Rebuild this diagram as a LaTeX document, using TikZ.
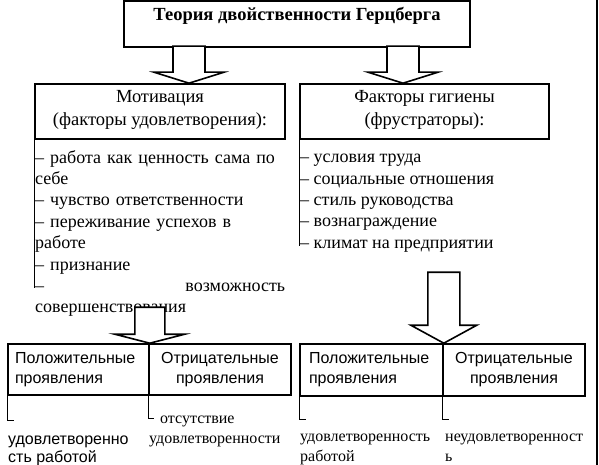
\documentclass[tikz,border=0pt]{standalone}
\usepackage{fontspec}
\setmainfont{Liberation Serif}
\setsansfont{Liberation Sans}
\begin{document}
\begin{tikzpicture}[x=1pt,y=-1pt]
    \tikzset{every node/.style={inner sep=0pt}}
    \tikzset{box/.style={draw=black,line width=1.6pt}}
    \tikzset{barrow/.style={draw=black,fill=white,line width=1.6pt,line join=miter}}
    \tikzset{bracket/.style={draw=black,line width=1.3pt}}
    \tikzset{serif/.style={font=\fontsize{18}{21.4}\selectfont}}
    \tikzset{head serif/.style={font=\fontsize{18.5}{23.5}\selectfont}}
    \tikzset{small serif/.style={font=\fontsize{16}{20}\selectfont}}
    \tikzset{sans/.style={font=\sffamily\fontsize{16}{20}\selectfont}}
    \useasboundingbox (0,0) rectangle (599,465);
    % frame line on the right
    \draw [line width=1.3pt] (597,0) -- (597,465);
    % title
    \node [box, minimum width=346pt, minimum height=46pt] (title) at (297,24) {};
    \node [font=\bfseries\fontsize{18.5}{20}\selectfont] (titletext) at (297,15.5) {Теория двойственности Герцберга};
    % upper boxes
    \node [box, head serif, align=center, minimum width=250pt, minimum height=55pt, text depth=7pt] (motiv) at (160,111.5) {Мотивация\\(факторы удовлетворения):};
    \node [box, head serif, align=center, minimum width=249pt, minimum height=55pt, text depth=7pt] (hyg) at (424.5,111.5) {Факторы гигиены\\(фрустраторы):};
    % lists
    \draw [bracket] (motiv.south west) -- ++(0,148);
    \draw [bracket] (hyg.south west) -- ++(0,106);
    \node [serif, align=left, text width=250pt, anchor=north west] (motlist) at (35,150) {%
        – работа как ценность сама по\\
        себе\\
        – чувство ответственности\\
        – переживание успехов в\\
        работе\\
        – признание\\
        –\hfill возможность\\
        совершенствования};
    \node [serif, align=left, anchor=north west] (hyglist) at (300,154) {%
        – условия труда\\
        – социальные отношения\\
        – стиль руководства\\
        – вознаграждение\\
        – климат на предприятии};
    % lower boxes
    \node [box, sans, align=left, inner xsep=7pt, text width=127pt, minimum height=51pt] (posL) at (78.5,369.5) {Положительные\\проявления};
    \node [box, sans, align=center, minimum width=142pt, minimum height=51pt] (negL) at (220,369.5) {Отрицательные\\проявления};
    \node [box, sans, align=left, inner xsep=9pt, text width=125pt, minimum height=52pt] (posR) at (371.5,370) {Положительные\\проявления};
    \node [box, sans, align=center, minimum width=142pt, minimum height=52pt] (negR) at (514,370) {Отрицательные\\проявления};
    % block arrows
    \coordinate (tipA) at (motiv.north -| 189,0);
    \coordinate (tipB) at (hyg.north -| 403,0);
    \coordinate (tipC) at (posL.north east);
    \coordinate (tipD) at (posR.north east);
    \draw [barrow] (tipA) -- ++(-35,-11) -- ++(19,0) -- ++(0,-26) -- ++(32,0) -- ++(0,26) -- ++(19,0) -- cycle;
    \draw [barrow] (tipB) -- ++(-35,-11) -- ++(19,0) -- ++(0,-26) -- ++(32,0) -- ++(0,26) -- ++(19,0) -- cycle;
    \draw [barrow] (tipC) -- ++(-35,-9) -- ++(20,0) -- ++(0,-27) -- ++(30,0) -- ++(0,27) -- ++(20,0) -- cycle;
    \draw [barrow] (tipD) -- ++(-33,-18) -- ++(17,0) -- ++(0,-53) -- ++(32,0) -- ++(0,53) -- ++(17,0) -- cycle;
    % brackets under the lower boxes
    \draw [bracket] (posL.south west) -- ++(0,25) -- ++(7,0);
    \draw [bracket] (negL.south west) -- ++(0,23) -- ++(6,0);
    \draw [bracket] (posR.south west) -- ++(0,23) -- ++(7,0);
    \draw [bracket] (negR.south west) -- ++(0,23) -- ++(7,0);
    \node [sans, font=\sffamily\fontsize{16}{18.5}\selectfont, align=left, anchor=north west] (posLtext) at (8,435.5) {удовлетворенно\\сть работой};
    \node [small serif, align=left, anchor=north west] (negLtext) at (149,416) {\hspace*{11pt}отсутствие\\удовлетворенности};
    \node [small serif, align=left, anchor=north west] (posRtext) at (300,434) {удовлетворенность\\работой};
    \node [small serif, align=left, anchor=north west] (negRtext) at (445,434) {неудовлетворенност\\ь};
\end{tikzpicture}
\end{document}
